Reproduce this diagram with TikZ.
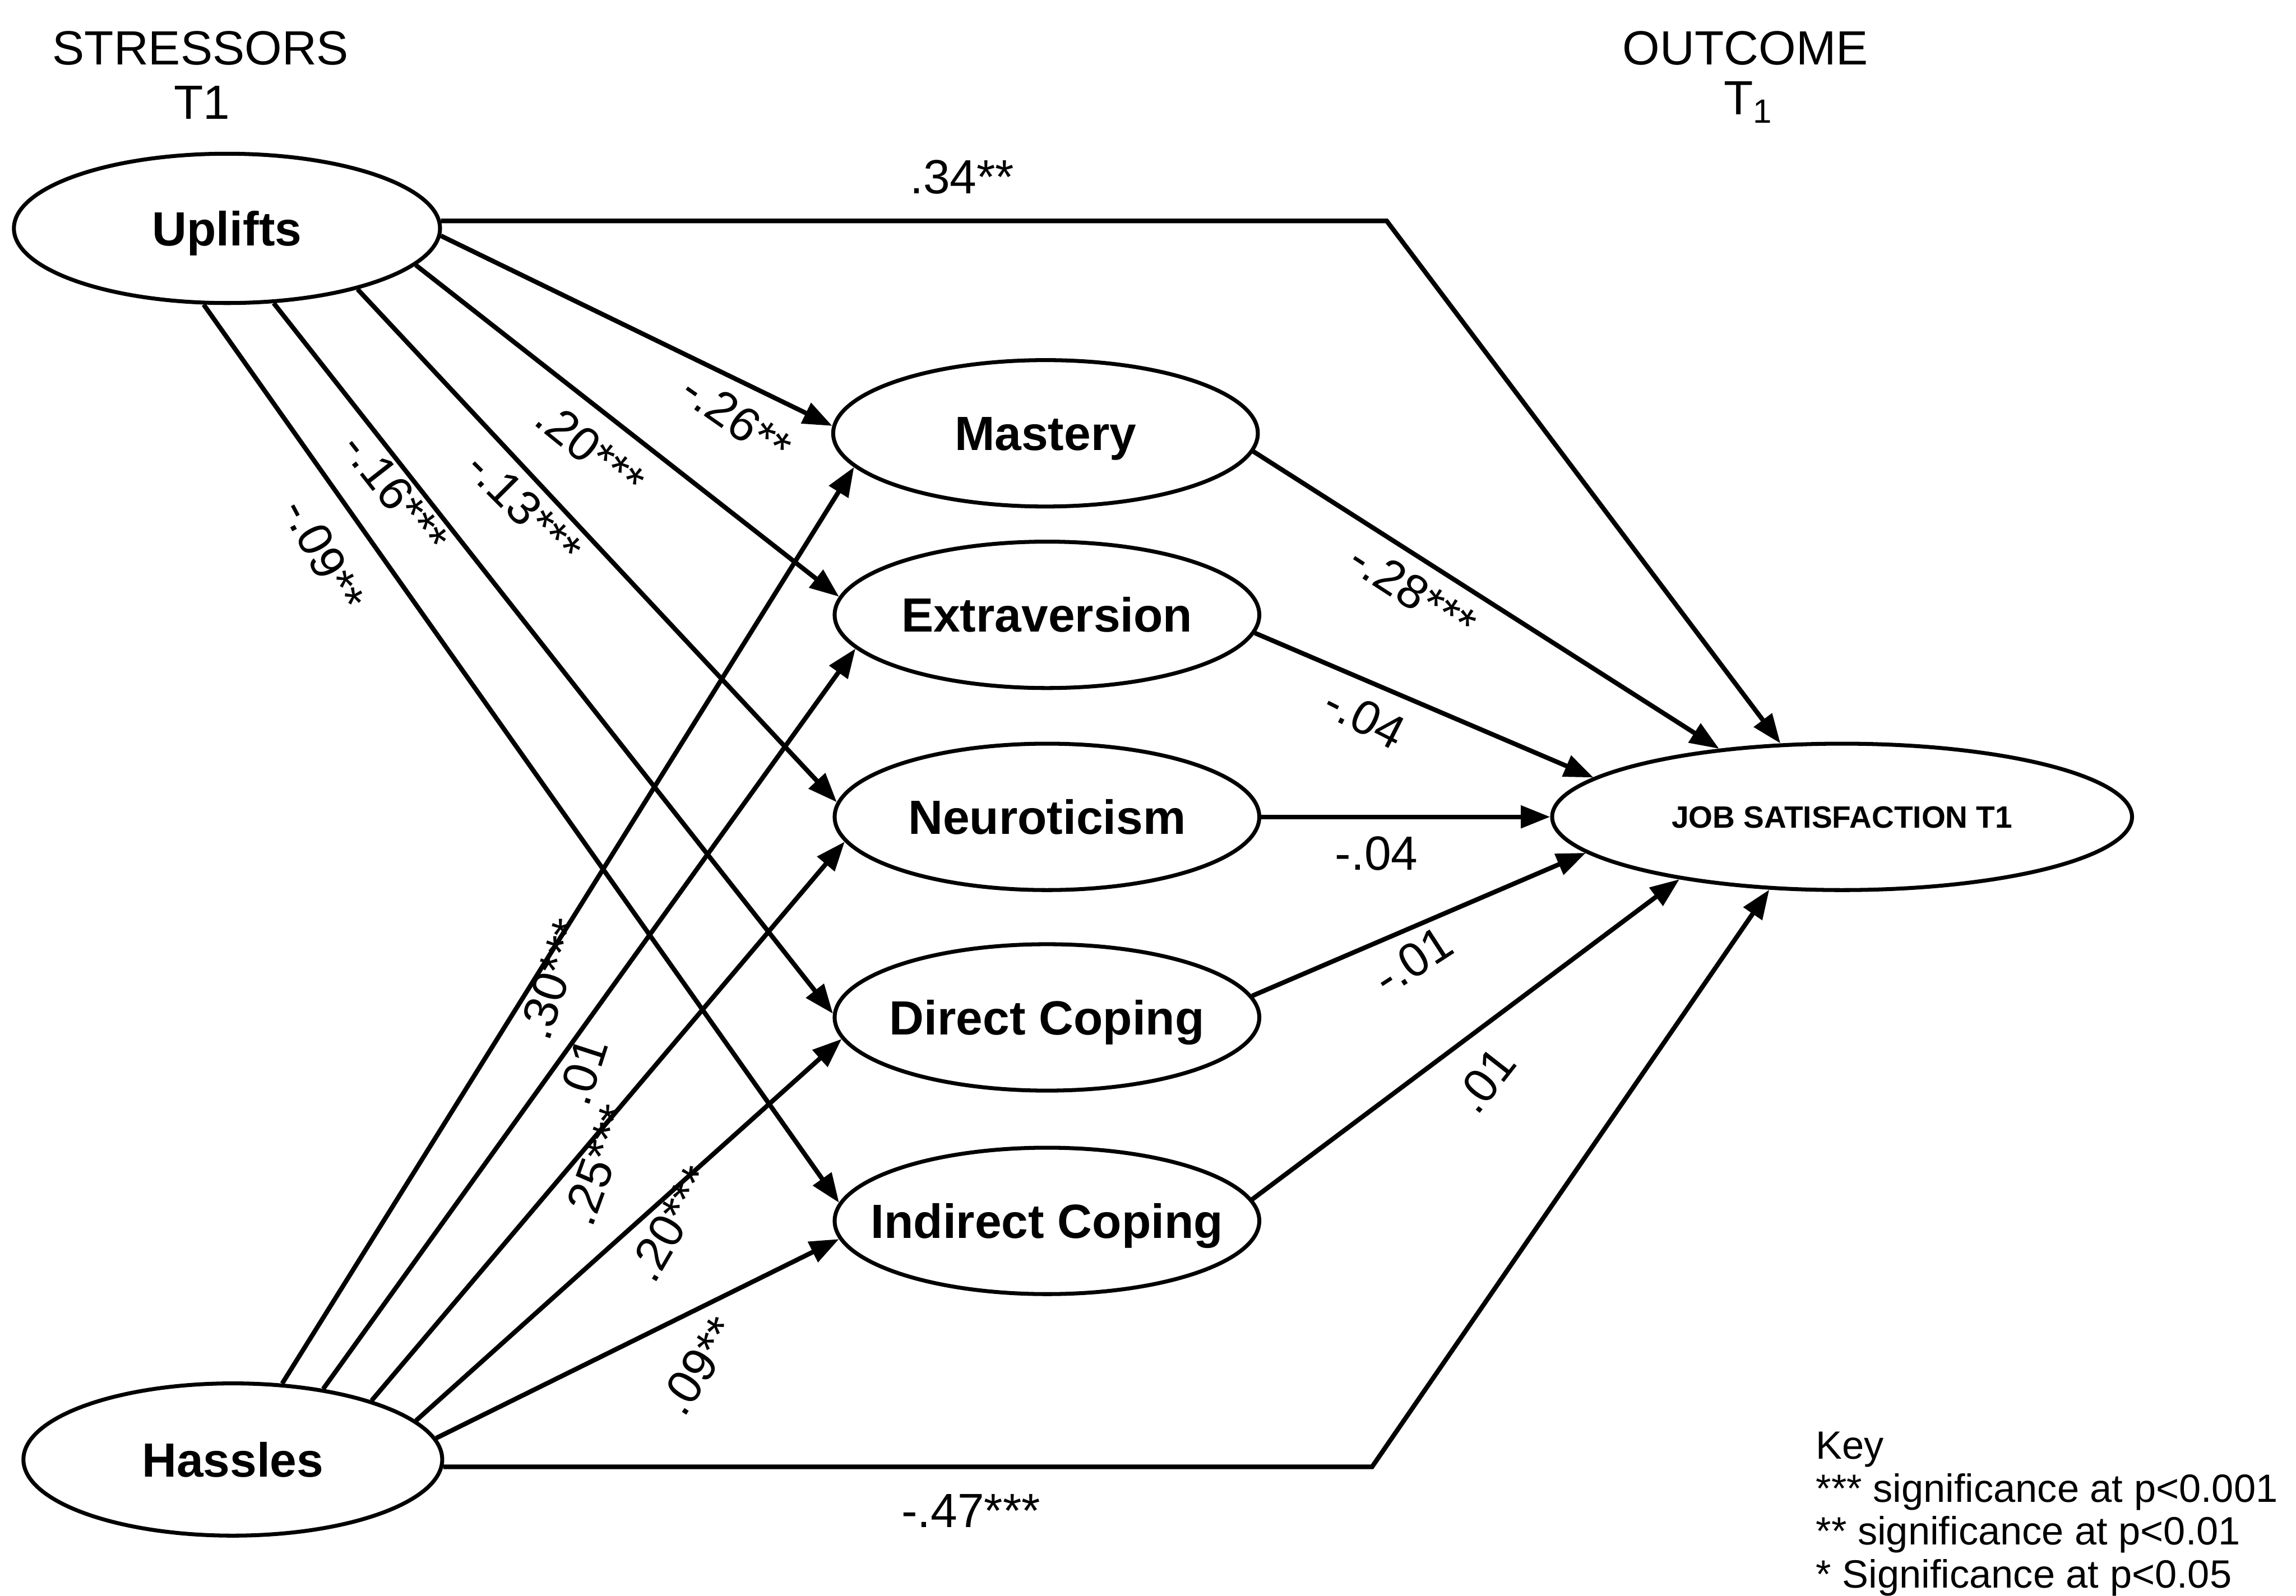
\documentclass[tikz,border=0pt]{standalone}
\usepackage{fontspec}
\setmainfont{Liberation Sans}
\usetikzlibrary{shapes.geometric,arrows.meta}
\begin{document}
\begin{tikzpicture}[x=0.03cm,y=-0.03cm,
  var/.style={ellipse, draw, line width=2.3pt, inner sep=0pt,
    minimum width=8.7cm, minimum height=3cm,
    text height=20pt, text depth=0pt,
    font=\fontsize{28}{32}\selectfont\bfseries},
  coef/.style={font=\fontsize{28}{32}\selectfont, inner sep=1pt},
  head/.style={font=\fontsize{28}{32}\selectfont, inner sep=0pt},
  link/.style={line width=2.7pt, -{Triangle[length=0.6cm,width=0.45cm]}},
]
\useasboundingbox (0,0) rectangle (1568,1090);

% column headings
\node[head] (stressors) at (137,33) {STRESSORS};
\node[head] (t1a) at (138,70) {T1};
\node[head] (outcome) at (1192,33) {OUTCOME};
\node[head] (t1b) at (1194,70) {T\textsubscript{1}};

% latent variables
\node[var, minimum width=8.73cm, minimum height=3.06cm] (U) at (155,156) {\makebox[0pt]{Uplifts}};
\node[var, minimum width=8.58cm, minimum height=3.12cm] (H) at (159,997) {\makebox[0pt]{Hassles}};
\node[var] (M) at (714,296) {\makebox[0pt]{Mastery}};
\node[var] (E) at (715,420) {\makebox[0pt]{Extraversion}};
\node[var] (N) at (715,558) {\makebox[0pt]{Neuroticism}};
\node[var] (D) at (715,695) {\makebox[0pt]{Direct Coping}};
\node[var] (I) at (715,834) {\makebox[0pt]{Indirect Coping}};
\node[var, minimum width=11.88cm, text height=13pt,
      font=\fontsize{18}{22}\selectfont\bfseries] (J) at (1258,558) {\makebox[0pt]{JOB SATISFACTION T1}};

% bends of the direct paths
\coordinate (k1) at (947,150);
\coordinate (k2) at (937,1001);

% paths from Uplifts
\draw[link] (U.-2) -- (M.178);
\draw[link] (U.-11) -- (E.175);
\draw[link] (U.-25) -- (N.176);
\draw[link] (U.-58) -- (D.179);
\draw[link] (U.-107) -- (I.175);
\draw[link] (U.2) -- (U.2 -| k1) -- (J.130);

% paths from Hassles
\draw[link] (H.57) -- (M.190);
\draw[link] (H.38) -- (E.190);
\draw[link] (H.23) -- (N.187);
\draw[link] (H.12) -- (D.186);
\draw[link] (H.6) -- (I.185);
\draw[link] (H.-2) -- (H.-2 -| k2) -- (J.225);

% paths into job satisfaction
\draw[link] (M.-5) -- (J.151);
\draw[link] (E.-5) -- (J.171);
\draw[link] (N.east) -- (J.west);
\draw[link] (D.6) -- (J.188);
\draw[link] (I.6) -- (J.201);

% path coefficients
\node[coef] (c34) at (657,121) {.34**};
\node[coef, rotate=-35] (c26) at (503,286) {-.26**};
\node[coef, rotate=-39] (c20a) at (403,307) {.20***};
\node[coef, rotate=-45] (c13) at (358,347) {-.13***};
\node[coef, rotate=-52] (c16) at (270,337) {-.16***};
\node[coef, rotate=-62] (c09a) at (221,379) {-.09**};
\node[coef, rotate=72] (c30) at (377,669) {.30***};
\node[coef, rotate=72] (c01a) at (398,732) {.01};
\node[coef, rotate=70] (c25) at (408,796) {.25***};
\node[coef, rotate=60] (c20b) at (458,836) {.20***};
\node[coef, rotate=57] (c09b) at (477,933) {.09**};
\node[coef] (c47) at (663,1032) {-.47***};
\node[coef, rotate=-33] (c28) at (965,404) {-.28***};
\node[coef, rotate=-27] (c04a) at (932,490) {-.04};
\node[coef] (c04b) at (940,583) {-.04};
\node[coef, rotate=33] (c01b) at (965,656) {-.01};
\node[coef, rotate=52] (c01c) at (1014,738) {.01};

% key
\node[font=\fontsize{23}{25}\selectfont, align=left, anchor=north west, inner sep=0pt] (key) at (1240,978)
  {Key\\*** significance at p<0.001\\** significance at p<0.01\\* Significance at p<0.05};
\end{tikzpicture}
\end{document}
